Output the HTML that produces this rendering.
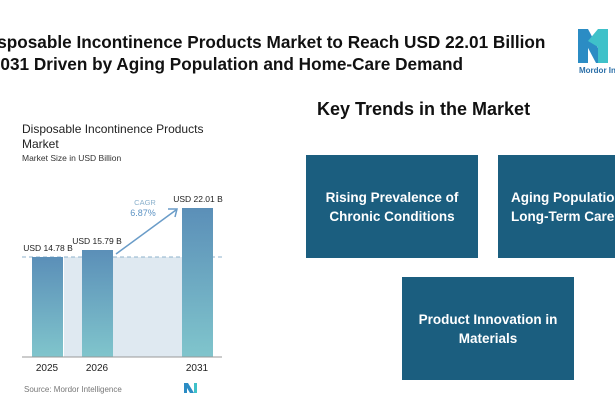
<!DOCTYPE html>
<html><head><style>
body{margin:0;width:615px;height:410px;background:#fff;position:relative;overflow:hidden;font-family:"Liberation Sans",sans-serif}
.a{position:absolute;white-space:nowrap}
.t{font-size:17.2px;font-weight:bold;color:#111}
.box{position:absolute;background:#1b5e7f;color:#fff;font-weight:bold;font-size:13.5px;display:flex;align-items:center;justify-content:center;text-align:center;line-height:19px;white-space:nowrap;overflow:hidden}
</style></head><body>
<div class="a t" style="left:-20px;top:32px">Disposable Incontinence Products Market to Reach USD 22.01 Billion</div>
<div class="a t" style="left:-34px;top:54px">by 2031 Driven by Aging Population and Home-Care Demand</div>
<svg class="a" style="left:576px;top:27px" width="39" height="38" viewBox="0 0 39 38">
<polygon points="2,2 12,2 12,36 2,36" fill="#2b8cc4"/>
<polygon points="2,2 12,2 30,36 20,36" fill="#2b8cc4"/>
<polygon points="22,2 32,2 32,36 22,36" fill="#3fc1c9"/>
<polygon points="12,14 22,2 22,20" fill="#3fc1c9"/>
</svg>
<div class="a" style="left:579px;top:66px;font-size:8px;color:#2b6fa8;font-weight:bold">Mordor Intelligence</div>
<div class="a" style="left:22px;top:122px;font-size:12px;line-height:15px;color:#222">Disposable Incontinence Products<br>Market</div>
<div class="a" style="left:22px;top:153px;font-size:8.5px;color:#333">Market Size in USD Billion</div>
<svg class="a" style="left:0;top:0" width="260" height="410">
<defs><linearGradient id="g" x1="0" y1="0" x2="0" y2="1"><stop offset="0" stop-color="#5b8fb8"/><stop offset="1" stop-color="#80c5cc"/></linearGradient></defs>
<rect x="64" y="257" width="118" height="100" fill="#dfe9f1"/>
<line x1="22" y1="257" x2="222" y2="257" stroke="#8fb3cc" stroke-dasharray="4,3"/>
<rect x="32" y="257" width="31" height="100" fill="url(#g)"/>
<rect x="82" y="250" width="31" height="107" fill="url(#g)"/>
<rect x="182" y="208" width="31" height="149" fill="url(#g)"/>
<line x1="22" y1="357" x2="222" y2="357" stroke="#999"/>
<line x1="116" y1="254" x2="176" y2="210" stroke="#6a9cc8" stroke-width="1.5"/>
<polyline points="168,209 177,209 175,217" fill="none" stroke="#6a9cc8" stroke-width="1.5"/>
<text x="48" y="251" font-size="8.5" text-anchor="middle" fill="#222" font-family="Liberation Sans">USD 14.78 B</text>
<text x="97" y="244" font-size="8.5" text-anchor="middle" fill="#222" font-family="Liberation Sans">USD 15.79 B</text>
<text x="198" y="202" font-size="8.5" text-anchor="middle" fill="#222" font-family="Liberation Sans">USD 22.01 B</text>
<text x="145" y="205" font-size="7.5" text-anchor="middle" fill="#8ab0cc" font-family="Liberation Sans">CAGR</text>
<text x="143" y="216" font-size="9" text-anchor="middle" fill="#5c93c4" font-family="Liberation Sans">6.87%</text>
<text x="47" y="371" font-size="10" text-anchor="middle" fill="#222" font-family="Liberation Sans">2025</text>
<text x="97" y="371" font-size="10" text-anchor="middle" fill="#222" font-family="Liberation Sans">2026</text>
<text x="197" y="371" font-size="10" text-anchor="middle" fill="#222" font-family="Liberation Sans">2031</text>
<text x="24" y="392" font-size="8" fill="#777" font-family="Liberation Sans">Source:  Mordor Intelligence</text>
<polygon points="184,383 188,383 194,393 190,393" fill="#2b8cc4"/><rect x="184" y="383" width="3" height="10" fill="#2b8cc4"/><rect x="194" y="383" width="3" height="10" fill="#3fc1c9"/>
</svg>
<div class="a" style="left:317px;top:99px;font-size:18px;font-weight:bold;color:#111">Key Trends in the Market</div>
<div class="box" style="left:306px;top:155px;width:172px;height:103px">Rising Prevalence of<br>Chronic Conditions</div>
<div class="box" style="left:498px;top:155px;width:117px;height:103px;justify-content:flex-start;padding-left:13px;box-sizing:border-box;text-align:left">Aging Population &amp;<br>Long-Term Care Needs</div>
<div class="box" style="left:402px;top:277px;width:172px;height:103px">Product Innovation in<br>Materials</div>
</body></html>
